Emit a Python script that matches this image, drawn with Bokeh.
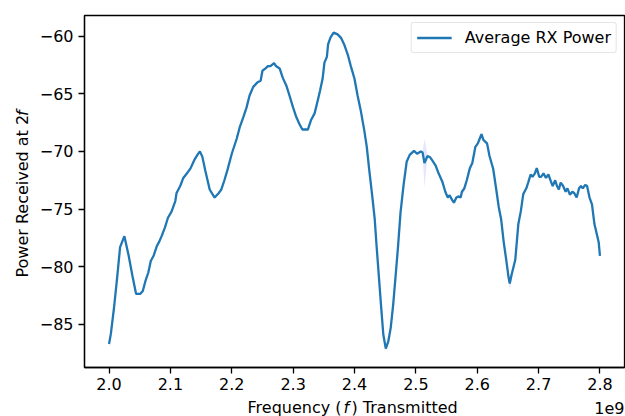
from bokeh.plotting import figure
from bokeh.models import Range1d, FixedTicker, Label
from bokeh.layouts import column, row
from bokeh.embed import file_html
from bokeh.resources import INLINE

# ---- data (frequency in GHz, shown with a 1e9 offset) ----
freq_ghz = [
    2.000, 2.003, 2.008, 2.013, 2.018, 2.025, 2.032, 2.038, 2.044, 2.051,
    2.055, 2.059, 2.064, 2.068, 2.073, 2.078, 2.082, 2.086, 2.091, 2.096,
    2.102, 2.108, 2.110, 2.116, 2.121, 2.127, 2.133, 2.139, 2.144, 2.148,
    2.152, 2.157, 2.164, 2.172, 2.179, 2.183, 2.188, 2.193, 2.200, 2.208,
    2.213, 2.219, 2.224, 2.229, 2.235, 2.242, 2.247, 2.250, 2.255, 2.259,
    2.263, 2.269, 2.272, 2.278, 2.283, 2.289, 2.294, 2.300, 2.305, 2.310,
    2.315, 2.324, 2.329, 2.335, 2.340, 2.344, 2.348, 2.351, 2.355, 2.357,
    2.361, 2.366, 2.3725, 2.378, 2.383, 2.389, 2.394, 2.400, 2.405, 2.410,
    2.416, 2.420, 2.424, 2.429, 2.433, 2.436, 2.440, 2.444, 2.447, 2.451,
    2.455, 2.459, 2.463, 2.467, 2.471, 2.475, 2.480, 2.485, 2.490, 2.497,
    2.502, 2.508, 2.511, 2.514, 2.519, 2.523, 2.527, 2.532, 2.537, 2.543,
    2.548, 2.552, 2.555, 2.559, 2.562, 2.566, 2.570, 2.573, 2.575, 2.579,
    2.583, 2.588, 2.592, 2.597, 2.601, 2.604, 2.607, 2.610, 2.616, 2.620,
    2.626, 2.631, 2.635, 2.639, 2.643, 2.647, 2.651, 2.653, 2.656, 2.662,
    2.667, 2.671, 2.675, 2.680, 2.683, 2.687, 2.690, 2.694, 2.697, 2.701,
    2.704, 2.708, 2.712, 2.716, 2.720, 2.723, 2.727, 2.730, 2.733, 2.736,
    2.740, 2.744, 2.747, 2.751, 2.755, 2.758, 2.762, 2.766, 2.769, 2.772,
    2.776, 2.779, 2.783, 2.787, 2.791, 2.795, 2.798, 2.800,
]
power_dbm = [
    -86.7, -85.8, -83.6, -81.05, -78.3, -77.35, -79.05, -80.76, -82.35, -82.35,
    -82.1, -81.3, -80.5, -79.5, -79.0, -78.2, -77.8, -77.3, -76.6, -75.75,
    -75.2, -74.3, -73.6, -73.0, -72.3, -71.9, -71.45, -70.74, -70.3, -70.0,
    -70.45, -71.7, -73.3, -74.0, -73.6, -73.3, -72.5, -71.6, -70.2, -68.9,
    -67.9, -67.0, -66.2, -65.15, -64.4, -64.0, -63.87, -63.0, -62.8, -62.6,
    -62.6, -62.35, -62.6, -62.8, -63.6, -64.3, -65.15, -66.2, -67.0, -67.6,
    -68.1, -68.1, -67.3, -66.7, -65.6, -64.7, -63.7, -62.3, -61.8, -60.7,
    -60.1, -59.7, -59.85, -60.15, -60.7, -61.6, -62.6, -63.7, -65.15, -66.4,
    -68.2, -69.6, -71.6, -73.9, -75.9, -78.2, -81.05, -83.9, -85.9, -87.1,
    -86.5, -85.3, -83.3, -80.8, -78.2, -75.3, -72.9, -70.9, -70.3, -69.95,
    -70.2, -70.0, -70.1, -71.0, -70.4, -70.5, -70.8, -71.2, -71.9, -72.6,
    -73.5, -74.0, -73.8, -74.2, -74.45, -74.0, -73.9, -74.0, -73.5, -73.2,
    -72.5, -71.45, -71.0, -69.6, -69.3, -68.9, -68.5, -69.0, -69.3, -70.4,
    -71.5, -73.3, -74.8, -75.9, -77.8, -79.3, -80.9, -81.45, -80.7, -79.4,
    -76.3, -75.2, -73.7, -73.2, -72.7, -72.0, -72.2, -71.9, -71.45, -72.2,
    -72.2, -71.9, -72.3, -72.0, -72.6, -73.0, -72.5, -73.0, -73.3, -72.7,
    -73.0, -73.5, -73.2, -73.75, -73.5, -73.6, -74.0, -73.2, -73.0, -73.2,
    -72.9, -73.0, -74.0, -74.6, -76.3, -77.2, -77.9, -79.05,
]
# spread of the shaded band around the average (default small value)
band_default = 0.1
band_spread = {2.000: 0.35, 2.451: 0.25, 2.514: 2.1, 2.579: 0.4,
               2.604: 0.3, 2.651: 0.3, 2.653: 0.6, 2.656: 0.3}

x_ticks = [2.0, 2.1, 2.2, 2.3, 2.4, 2.5, 2.6, 2.7, 2.8]
x_tick_labels = ["2.0", "2.1", "2.2", "2.3", "2.4", "2.5", "2.6", "2.7", "2.8"]
y_ticks = [-85, -80, -75, -70, -65, -60]
y_tick_labels = ["\u221285", "\u221280", "\u221275", "\u221270", "\u221265", "\u221260"]

series_label = "Average RX Power"
x_offset_text = "1e9"

# ---- derived ----
spread = [band_spread.get(f, band_default) for f in freq_ghz]
band_lo = [p - s for p, s in zip(power_dbm, spread)]
band_hi = [p + s for p, s in zip(power_dbm, spread)]

xmin, xmax = min(freq_ghz), max(freq_ghz)
ymin, ymax = min(band_lo), max(band_hi)
xpad = 0.05 * (xmax - xmin)
ypad = 0.05 * (ymax - ymin)

FONT = "DejaVu Sans"
FS = "16px"

W, H = 625, 416
YLAB_W = 36          # strip holding the rotated y label
XLAB_H = 18          # strip holding the x label
MAIN_W, MAIN_H = W - YLAB_W, H - XLAB_H


def strip(width, height):
    f = figure(width=width, height=height, output_backend="svg",
               toolbar_location=None, x_axis_location=None, y_axis_location=None,
               x_range=Range1d(0, width), y_range=Range1d(0, height),
               min_border=0)
    f.outline_line_color = None
    f.grid.visible = False
    f.background_fill_color = "white"
    f.border_fill_color = "white"
    return f


p = figure(width=MAIN_W, height=MAIN_H, output_backend="svg", toolbar_location=None,
           x_range=Range1d(xmin - xpad, xmax + xpad),
           y_range=Range1d(ymin - ypad, ymax + ypad),
           min_border_left=82 - YLAB_W, min_border_right=1, min_border_top=15,
           min_border_bottom=MAIN_H - 367)
p.background_fill_color = "white"
p.border_fill_color = "white"
p.grid.visible = False
p.outline_line_color = "black"
p.outline_line_width = 1.3
p.outline_line_alpha = 1.0

p.varea(x=freq_ghz, y1=band_lo, y2=band_hi, fill_color="blue", fill_alpha=0.1)
p.line(x=freq_ghz, y=power_dbm, line_color="#1f77b4", line_width=2.3,
       legend_label=series_label)

for ax in (p.xaxis[0], p.yaxis[0]):
    ax.axis_line_color = "black"
    ax.axis_line_width = 1.3
    ax.major_tick_line_color = "black"
    ax.major_tick_line_width = 1.3
    ax.major_tick_in = 0
    ax.major_tick_out = 6
    ax.minor_tick_line_color = None
    ax.major_label_text_font = FONT
    ax.major_label_text_font_size = FS
    ax.major_label_text_color = "black"
    ax.major_label_standoff = 5

p.xaxis[0].ticker = FixedTicker(ticks=x_ticks)
p.xaxis[0].major_label_overrides = dict(zip(x_ticks, x_tick_labels))
p.yaxis[0].ticker = FixedTicker(ticks=y_ticks)
p.yaxis[0].major_label_overrides = dict(zip(y_ticks, y_tick_labels))
p.xaxis[0].major_label_standoff = 4

lg = p.legend[0]
lg.location = "top_right"
lg.margin = 7
lg.padding = 5
lg.spacing = 0
lg.glyph_width = 35
lg.glyph_height = 19
lg.label_height = 19
lg.label_standoff = 13
lg.label_text_font = FONT
lg.label_text_font_size = FS
lg.label_text_color = "black"
lg.border_line_color = "#cccccc"
lg.border_line_width = 1
lg.background_fill_color = "white"
lg.background_fill_alpha = 0.8
if "border_radius" in lg.properties():
    lg.border_radius = 3

lab_kw = dict(text_font=FONT, text_font_size=FS, text_color="black",
              text_baseline="middle")

# y label strip: "Power Received at 2" + italic "f", rotated (centre-anchored)
ylab = strip(YLAB_W, MAIN_H)
ylab.add_layout(Label(x=22, y=MAIN_H - 204.3, text="Power Received at 2",
                      angle=1.5707963, text_align="center", **lab_kw))
ylab.add_layout(Label(x=22, y=MAIN_H - 110.5, text="f", angle=1.5707963,
                      text_align="center", text_font_style="italic", **lab_kw))

# x label strip: "Frequency (" + italic "f" + ") Transmitted", plus the 1e9 offset
xlab = strip(W, XLAB_H)
mid = H - 407
xlab.add_layout(Label(x=341, y=mid, text="Frequency (", text_align="right", **lab_kw))
xlab.add_layout(Label(x=343, y=mid, text="f", text_align="left",
                      text_font_style="italic", **lab_kw))
xlab.add_layout(Label(x=351, y=mid, text=") Transmitted", text_align="left", **lab_kw))
xlab.add_layout(Label(x=624, y=mid, text=x_offset_text, text_align="right", **lab_kw))

layout = column(row(ylab, p, spacing=0), xlab, spacing=0)

open("out.html", "w").write(file_html(layout, INLINE))
